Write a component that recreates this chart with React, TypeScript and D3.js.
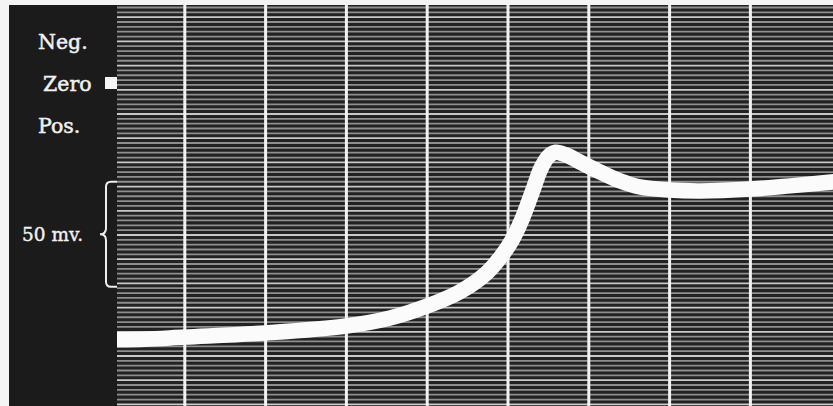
import React from "react";
import * as d3 from "d3";

// Time axis: vertical white timing lines (divisions)
const timeMarks = [1, 2, 3, 4, 5, 6, 7, 8];
// Trace: time (divisions) and potential (mV, positive drawn downward)
const traceT = [0.0, 0.5, 1.0, 2.0, 3.0, 3.54, 4.0, 4.4, 4.72, 4.9, 5.05, 5.17, 5.3, 5.41, 5.5, 5.59, 5.72, 5.89, 6.14, 6.39, 6.63, 7.0, 7.38, 8.0, 8.49, 9.1];
const traceV = [122.4, 122.0, 121.0, 119.0, 115.7, 111.9, 106.2, 99.5, 91.0, 83.3, 74.8, 65.2, 51.9, 40.5, 35.0, 33.0, 34.3, 37.6, 42.4, 46.7, 49.5, 51.0, 51.4, 50.5, 49.0, 46.8];
// Labels on left panel
const stateLabels = ["Neg.", "Zero", "Pos."];
const stateLabelV = [-20, 0, 20];
const scaleLabel = "50 mv.";
const scaleFrom = 47;
const scaleTo = 97;

const W = 833;
const H = 406;
const PANEL_L = 9;
const PANEL_R = 117;
const TOP = 5;

export default function App() {
  const x = d3.scaleLinear().domain([0, 9]).range([104, 831.2]);
  const y = d3.scaleLinear().domain([0, 100]).range([83, 293]);
  const rowY = d3.range(0, 84).map((i) => 7.5 + i * 4.84);

  const line = d3
    .line<number>()
    .x((_, i) => x(traceT[i]))
    .y((d) => y(d))
    .curve(d3.curveCatmullRom.alpha(0.5));

  const by0 = y(scaleFrom);
  const by1 = y(scaleTo);
  const bm = (by0 + by1) / 2;
  const bx = 106;
  const brace = `M117,${by0} L111,${by0} Q${bx},${by0} ${bx},${by0 + 5} L${bx},${bm - 6} Q${bx},${bm} 100,${bm} Q${bx},${bm} ${bx},${bm + 6} L${bx},${by1 - 5} Q${bx},${by1} 111,${by1} L117,${by1}`;

  const labelX = [38, 43, 38];

  return (
    <div style={{ position: "fixed", left: 0, top: 0 }}>
      <svg width={W} height={H} style={{ display: "block" }}>
        <defs>
          <clipPath id="plot">
            <rect x={PANEL_R} y={TOP} width={W - PANEL_R} height={H - TOP} />
          </clipPath>
        </defs>
        <rect x={0} y={0} width={W} height={H} fill="#f4f4f4" />
        <rect x={PANEL_L} y={TOP} width={PANEL_R - PANEL_L} height={H - TOP} fill="#1b1b1b" />
        <rect x={PANEL_R} y={TOP} width={W - PANEL_R} height={H - TOP} fill="#222222" />
        <g clipPath="url(#plot)">
          {rowY.map((ry, i) => (
            <line
              key={i}
              x1={PANEL_R}
              x2={W}
              y1={ry}
              y2={ry}
              stroke={i % 5 === 2 ? "#c8c8c8" : "#8e8e8e"}
              strokeWidth={1.8}
            />
          ))}
          {timeMarks.map((t) => (
            <line key={t} x1={x(t)} x2={x(t)} y1={TOP} y2={H} stroke="#f2f2f2" strokeWidth={3} />
          ))}
          <path d={line(traceV) || ""} fill="none" stroke="#fbfbfb" strokeWidth={15.5} strokeLinejoin="round" />
        </g>
        {stateLabels.map((s, i) => (
          <text
            key={s}
            x={labelX[i]}
            y={y(stateLabelV[i]) + 7.5}
            fill="#f0f0f0"
            stroke="#f0f0f0"
            strokeWidth={0.5}
            fontFamily="'DejaVu Serif', serif"
            fontSize={20.5}
          >
            {s}
          </text>
        ))}
        <rect x={105} y={y(0) - 6} width={12} height={12} fill="#f4f4f4" />
        <path d={brace} fill="none" stroke="#eeeeee" strokeWidth={2} />
        <text
          x={22}
          y={bm + 7}
          fill="#f0f0f0"
          stroke="#f0f0f0"
          strokeWidth={0.4}
          fontFamily="'DejaVu Serif', serif"
          fontSize={18.5}
        >
          {scaleLabel}
        </text>
      </svg>
    </div>
  );
}
